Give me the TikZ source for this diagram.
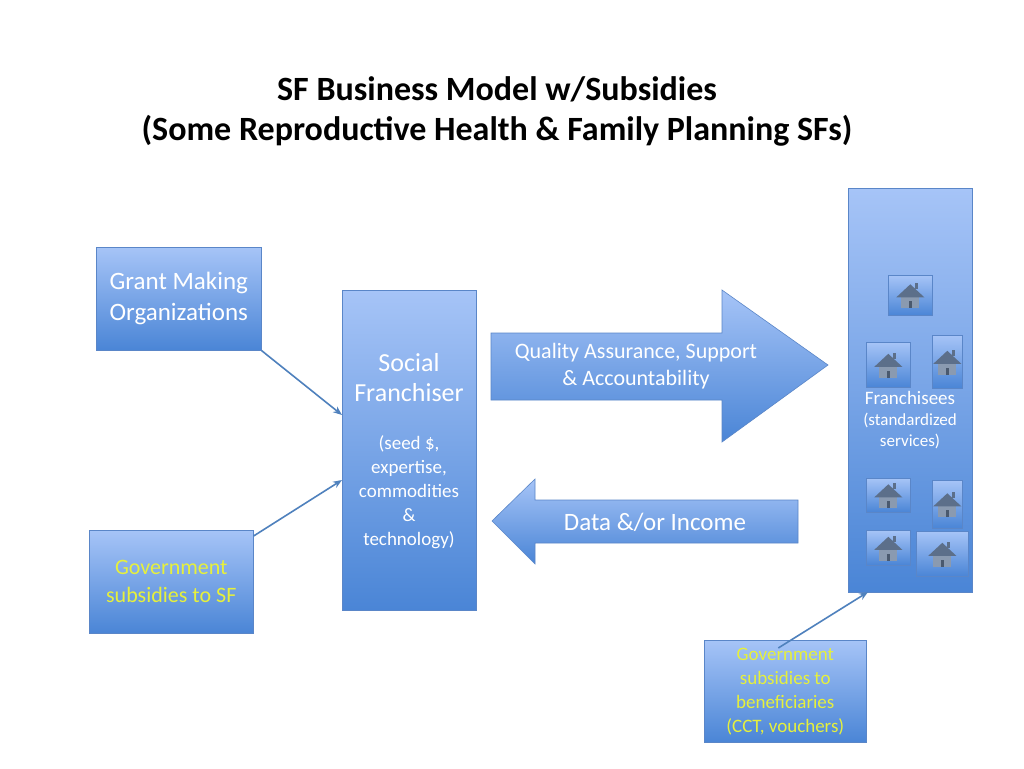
\documentclass[tikz,border=0pt]{standalone}
\usepackage{fontspec}
\setmainfont{Carlito}
\usetikzlibrary{shapes.arrows,arrows.meta}
\definecolor{btop}{HTML}{A6C4F7}
\definecolor{bbot}{HTML}{4A85D6}
\definecolor{bedge}{HTML}{5A86C8}
\definecolor{conn}{HTML}{4F81BD}
\definecolor{ytxt}{HTML}{E6F03C}
\definecolor{roof}{HTML}{5C6F8A}
\definecolor{hbody}{HTML}{8A9AB0}
\tikzset{
 grad/.style={top color=btop,bottom color=bbot,draw=bedge,line width=0.6pt},
 wtxt/.style={text=white,align=center},
 ytx/.style={text=ytxt,align=center},
 conn/.style={draw=conn,line width=1.6pt,-{Stealth[length=9pt,width=7pt]}},
}
\newcommand{\hous}[5]{%
 \node[grad,minimum width=#4pt,minimum height=#5pt,inner sep=0pt,anchor=north west] (#1) at (#2,#3) {};
 \begin{scope}[shift={(#1.center)}]
  \fill[hbody] (-9,1) rectangle (9,13);
  \fill[roof] (-14,2) -- (0,-11) -- (14,2) -- cycle;
  \fill[roof] (5,-6) rectangle (8,-12);
  \fill[roof!80!black] (-1.5,13) rectangle (1.5,6);
 \end{scope}}
\begin{document}
\begin{tikzpicture}[x=1pt,y=-1pt]
\useasboundingbox[fill=white] (0,0) rectangle (1024,768);
\node[font=\bfseries\fontsize{34}{40}\selectfont,align=center] (title) at (497,111) {SF Business Model w/Subsidies\\(Some Reproductive Health \& Family Planning SFs)};
% boxes
\node[grad,minimum width=165pt,minimum height=103pt,inner sep=0pt,anchor=north west,wtxt,font=\fontsize{25}{31}\selectfont] (grant) at (96,247) {Grant Making\\Organizations};
\node[grad,minimum width=134pt,minimum height=320pt,inner sep=0pt,anchor=north west] (sf) at (342,290) {};
\node[wtxt,font=\fontsize{26}{30}\selectfont] (sft) at (409,378) {Social\\Franchiser};
\node[text=white,align=center,font=\fontsize{19}{24}\selectfont] (sfd) at (409,492) {(seed \$,\\expertise,\\commodities\\\&\\technology)};
\node[grad,minimum width=164pt,minimum height=103pt,inner sep=0pt,anchor=north west,ytx,font=\fontsize{22}{28}\selectfont] (gov) at (89,530) {Government\\subsidies to SF};
\node[grad,minimum width=124pt,minimum height=404pt,inner sep=0pt,anchor=north west] (fr) at (848,188) {};
\node[wtxt,font=\fontsize{19}{21}\selectfont] (frt) at (910,420) {Franchisees\\{\fontsize{17}{21}\selectfont(standardized}\\{\fontsize{17}{21}\selectfont services)}};
\node[grad,minimum width=162pt,minimum height=102pt,inner sep=0pt,anchor=north west,ytx,font=\fontsize{19}{24}\selectfont] (ben) at (704,640) {Government\\subsidies to\\beneficiaries\\(CCT, vouchers)};
% arrows
\path[grad] (491,333) -- (722,333) -- (722,290) -- (828,365) -- (722,442) -- (722,400) -- (491,400) -- cycle;
\node[wtxt,font=\fontsize{22}{27}\selectfont] (qa) at (636,366) {Quality Assurance, Support\\\& Accountability};
\path[grad] (798,500) -- (535,500) -- (535,479) -- (492,521) -- (535,564) -- (535,543) -- (798,543) -- cycle;
\node[text=white,font=\fontsize{25}{28}\selectfont] (di) at (655,522) {Data \&/or Income};
% houses
\hous{h1}{888}{275}{44}{40}
\hous{h2}{866}{342}{44}{45}
\hous{h3}{932}{335}{30}{53}
\hous{h4}{866}{478}{44}{34}
\hous{h5}{932}{480}{30}{48}
\hous{h6}{866}{530}{44}{35}
\hous{h7}{916}{531}{52}{45}
% connectors
\coordinate (g1) at (342,415);
\coordinate (g2) at (342,480);
\coordinate (f1) at (868,592);
\draw[conn] (grant.south east) -- (g1);
\draw[conn] (gov.north east) ++(0,6) -- (g2);
\draw[conn] (ben.north) ++(-7,8) -- (f1);
\end{tikzpicture}
\end{document}
